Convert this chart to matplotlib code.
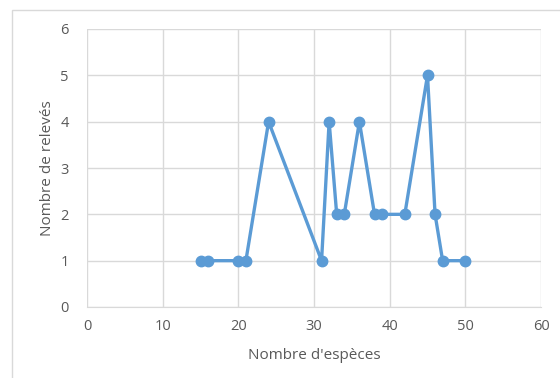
import matplotlib
matplotlib.use("Agg")
import matplotlib.pyplot as plt
from matplotlib.patches import Rectangle

species = [15, 16, 20, 21, 24, 31, 32, 33, 34, 36, 38, 39, 42, 45, 46, 47, 50]
releves = [1, 1, 1, 1, 4, 1, 4, 2, 2, 4, 2, 2, 2, 5, 2, 1, 1]
xticks = [0, 10, 20, 30, 40, 50, 60]
yticks = [0, 1, 2, 3, 4, 5, 6]

plt.rcParams['font.family'] = ['Open Sans', 'DejaVu Sans']
fig = plt.figure(figsize=(5.6, 3.78), dpi=100)
ax = fig.add_axes([87/560, 71/378, (541-87)/560, (307-29)/378])
fig.patches.append(Rectangle((12/560, -0.1), 1.2, (378-10)/378 + 0.1, transform=fig.transFigure,
                             fill=False, edgecolor='#D9D9D9', linewidth=1))

color = '#5B9BD5'
ax.plot(species, releves, color=color, linewidth=2.4, marker='o', markersize=7.5, zorder=3,
        clip_on=False)

ax.set_xlim(0, 60)
ax.set_ylim(0, 6)
ax.set_xticks(xticks)
ax.set_yticks(yticks)
ax.grid(True, color='#D9D9D9', linewidth=1)
ax.set_axisbelow(True)
for s in ['top', 'right', 'left']:
    ax.spines[s].set_visible(False)
ax.spines['bottom'].set_color('#D9D9D9')
ax.tick_params(axis='x', length=0, colors='#595959', labelsize=10.5, pad=9)
ax.tick_params(axis='y', length=0, colors='#595959', labelsize=10.5, pad=13)
ax.set_xlabel("Nombre d'espèces", color='#595959', fontsize=11, labelpad=10)
ax.set_ylabel("Nombre de relevés", color='#595959', fontsize=11, labelpad=4)

fig.savefig("out.png", dpi=100)
